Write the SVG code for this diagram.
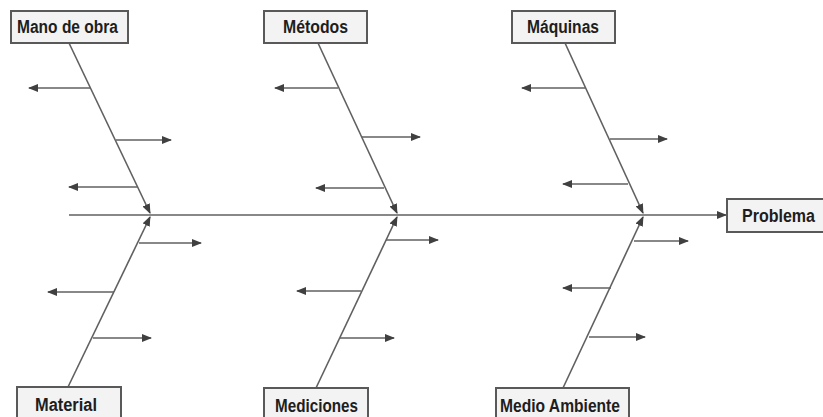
<svg xmlns="http://www.w3.org/2000/svg" width="823" height="417" viewBox="0 0 823 417">
<style>
.box{fill:#f3f3f3;stroke:#595959;stroke-width:2}
.lbl{font-family:"Liberation Sans",Arial,sans-serif;font-weight:bold;font-size:18px;fill:#1e1e1e}
.ln{stroke:#606060;stroke-width:1.6;fill:none}
.ar{stroke:#606060;stroke-width:1.6;fill:none;marker-end:url(#ah)}
</style>
<defs>
<marker id="ah" markerWidth="10" markerHeight="8" refX="9" refY="4" orient="auto" markerUnits="userSpaceOnUse">
<path d="M0,0 L10,4 L0,8 Z" fill="#404040"/>
</marker>
</defs>
<rect width="823" height="417" fill="#ffffff"/>
<g id="connectors">
<line class="ar" x1="69" y1="215" x2="726" y2="215"/>
<line class="ar" x1="69" y1="43" x2="150" y2="213"/>
<line class="ar" x1="68" y1="387" x2="150" y2="217"/>
<line class="ar" x1="318" y1="43" x2="397" y2="213"/>
<line class="ar" x1="316" y1="388" x2="397" y2="217"/>
<line class="ar" x1="565" y1="43" x2="643" y2="213"/>
<line class="ar" x1="563" y1="388" x2="643" y2="217"/>
<line class="ar" x1="90" y1="88" x2="29" y2="88"/>
<line class="ar" x1="116" y1="140" x2="171" y2="140"/>
<line class="ar" x1="137" y1="187" x2="69" y2="187"/>
<line class="ar" x1="139" y1="243" x2="201" y2="243"/>
<line class="ar" x1="114" y1="292" x2="48" y2="292"/>
<line class="ar" x1="93" y1="338" x2="151" y2="338"/>
<line class="ar" x1="338" y1="88" x2="275" y2="88"/>
<line class="ar" x1="362" y1="137" x2="420" y2="137"/>
<line class="ar" x1="384" y1="188" x2="316" y2="188"/>
<line class="ar" x1="386" y1="240" x2="438" y2="240"/>
<line class="ar" x1="361" y1="291" x2="297" y2="291"/>
<line class="ar" x1="340" y1="338" x2="394" y2="338"/>
<line class="ar" x1="585" y1="88" x2="522" y2="88"/>
<line class="ar" x1="610" y1="139" x2="667" y2="139"/>
<line class="ar" x1="628" y1="184" x2="563" y2="184"/>
<line class="ar" x1="634" y1="241" x2="688" y2="241"/>
<line class="ar" x1="611" y1="288" x2="563" y2="288"/>
<line class="ar" x1="589" y1="337" x2="645" y2="337"/>
</g>
<g id="mano-de-obra">
<rect class="box" x="11" y="11" width="117" height="32"/>
<text class="lbl" x="17" y="33" textLength="101" lengthAdjust="spacingAndGlyphs">Mano de obra</text>
</g>
<g id="metodos">
<rect class="box" x="264" y="11" width="103" height="32"/>
<text class="lbl" x="283" y="33" textLength="65" lengthAdjust="spacingAndGlyphs">Métodos</text>
</g>
<g id="maquinas">
<rect class="box" x="512" y="11" width="103" height="32"/>
<text class="lbl" x="527" y="33" textLength="72" lengthAdjust="spacingAndGlyphs">Máquinas</text>
</g>
<g id="problema">
<rect class="box" x="727" y="199" width="100" height="33"/>
<text class="lbl" x="742" y="222" textLength="73" lengthAdjust="spacingAndGlyphs">Problema</text>
</g>
<g id="material">
<rect class="box" x="17" y="387" width="104" height="40"/>
<text class="lbl" x="35" y="411" textLength="62" lengthAdjust="spacingAndGlyphs">Material</text>
</g>
<g id="mediciones">
<rect class="box" x="264" y="388" width="104" height="40"/>
<text class="lbl" x="275" y="412" textLength="83" lengthAdjust="spacingAndGlyphs">Mediciones</text>
</g>
<g id="medio-ambiente">
<rect class="box" x="496" y="388" width="133" height="40"/>
<text class="lbl" x="500" y="412" textLength="120" lengthAdjust="spacingAndGlyphs">Medio Ambiente</text>
</g>
</svg>
